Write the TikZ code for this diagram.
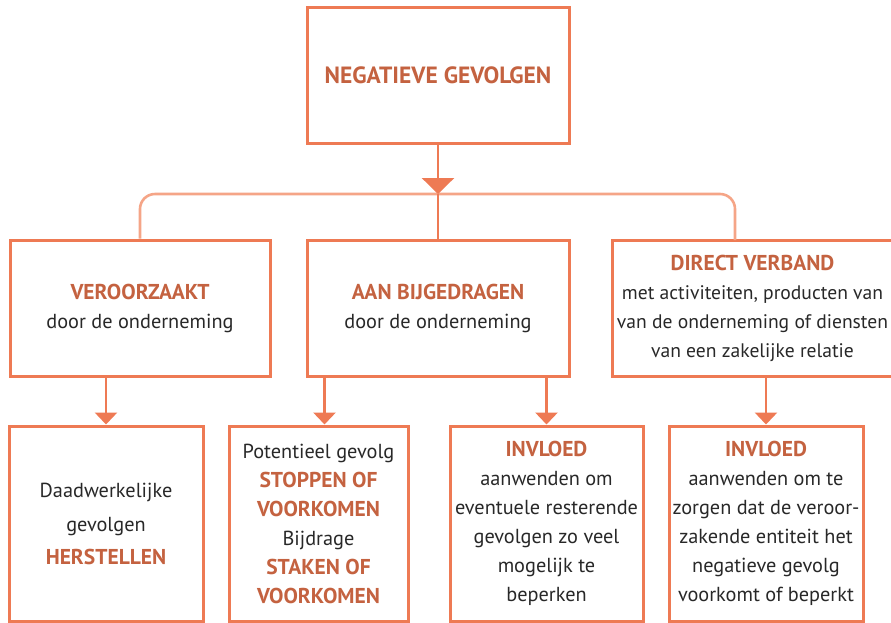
\documentclass[tikz,border=0pt]{standalone}
\usepackage{fontspec}
\setmainfont{PT Sans}
\usetikzlibrary{arrows.meta}
\definecolor{edge}{RGB}{238,122,84}
\definecolor{lightedge}{RGB}{245,165,135}
\definecolor{hl}{RGB}{196,98,64}
\definecolor{txt}{RGB}{40,40,40}
\newcommand{\hb}[1]{{\fontsize{21.5}{29}\selectfont\textbf{\color{hl}#1}}}
\tikzset{
  box/.style={draw=edge, line width=3pt, inner sep=0pt, align=center, text=txt,
    font=\fontsize{20.3}{29}\selectfont},
  conn/.style={draw=edge, line width=2.8pt},
  lconn/.style={draw=lightedge, line width=2.6pt, rounded corners=15pt},
  bigtip/.style={-{Triangle[width=32pt,length=16pt]}},
  smalltip/.style={-{Triangle[width=22pt,length=12pt]}}
}
\begin{document}
\begin{tikzpicture}[x=1pt,y=-1pt]
\useasboundingbox (0,0) rectangle (891,622);
\node[box, minimum width=262pt, minimum height=136pt] (t) at (438,75) {{\fontsize{23.5}{29}\selectfont\textbf{\color{hl}NEGATIEVE GEVOLGEN}}};
\node[box, minimum width=260pt, minimum height=136pt] (m1) at (140,308) {\hb{VEROORZAAKT}\\door de onderneming};
\node[box, minimum width=262pt, minimum height=136pt] (m2) at (438,308) {\hb{AAN BIJGEDRAGEN}\\door de onderneming};
\node[box, minimum width=281pt, minimum height=136pt, font=\fontsize{19.6}{29}\selectfont] (m3) at (752.5,308) {\hb{DIRECT VERBAND}\\met activiteiten, producten van\\van de onderneming of diensten\\van een zakelijke relatie};
\node[box, minimum width=194pt, minimum height=195pt] (b1) at (106,523.5) {Daadwerkelijke\\[5pt]gevolgen\\[4pt]\hb{HERSTELLEN}};
\node[box, minimum width=179pt, minimum height=195pt] (b2) at (318.5,523.5) {Potentieel gevolg\\\hb{STOPPEN OF}\\\hb{VOORKOMEN}\\Bijdrage\\\hb{STAKEN OF}\\\hb{VOORKOMEN}};
\node[box, minimum width=193pt, minimum height=195pt] (b3) at (546.5,523.5) {\hb{INVLOED}\\aanwenden om\\eventuele resterende\\gevolgen zo veel\\mogelijk te\\beperken};
\node[box, minimum width=194pt, minimum height=195pt] (b4) at (766,523.5) {\hb{INVLOED}\\aanwenden om te\\zorgen dat de veroor-\\zakende entiteit het\\negatieve gevolg\\voorkomt of beperkt};
\coordinate (j) at (438,194);
\coordinate (r) at (735,240);
\draw[lconn] (m1.north) |- (j) -| (r);
\draw[conn] (j) -- (m2.north);
\draw[conn, bigtip] (t.south) -- (j);
\draw[conn, smalltip] (m1.south -| b1.north) -- (b1.north);
\draw[conn, smalltip] ([xshift=6pt]m2.south -| b2.north) -- ([xshift=6pt]b2.north);
\draw[conn, smalltip] (m2.south -| b3.north) -- (b3.north);
\draw[conn, smalltip] (m3.south -| b4.north) -- (b4.north);
\end{tikzpicture}
\end{document}
